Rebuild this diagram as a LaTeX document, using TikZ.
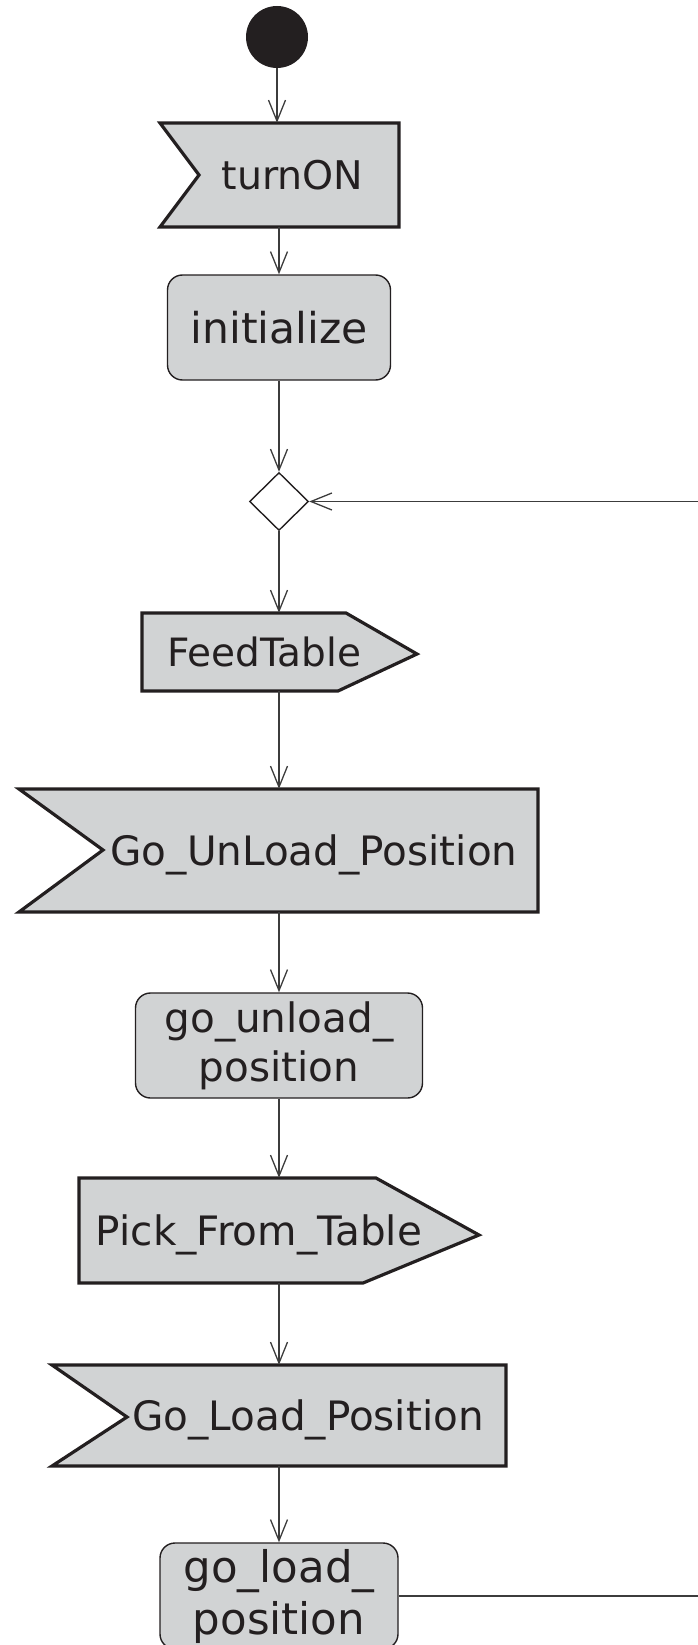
\documentclass[tikz,border=0pt]{standalone}
\usepackage{fontspec}
\setmainfont{DejaVu Sans}
\usetikzlibrary{calc,positioning,arrows.meta}
\usetikzlibrary{shapes.geometric}

\definecolor{boxgray}{HTML}{D1D3D4}
\definecolor{ink}{HTML}{231F20}
\definecolor{wire}{HTML}{3C3C3C}

\begin{document}
\begin{tikzpicture}[x=1pt,y=-1pt,
  sigline/.style={draw=ink,fill=boxgray,line width=3.2pt},
  sigtext/.style={text=ink,inner sep=0pt,text depth=0pt},
  action/.style={draw=ink,fill=boxgray,line width=1.4pt,rounded corners=15pt,
    text=ink,inner sep=0pt,align=center},
  flow/.style={draw=wire,line width=1.3pt,-{Straight Barb[length=21pt,width=17pt]}}]
\useasboundingbox (0,0) rectangle (698,1645);
% signal outlines
\filldraw[sigline] (160,123) -- (399,123) -- (399,227) -- (160,227) -- (199,175) -- cycle;
\filldraw[sigline] (142,613) -- (346,613) -- (417,654) -- (338,691) -- (142,691) -- cycle;
\filldraw[sigline] (19,789) -- (538,789) -- (538,912) -- (19,912) -- (103,850) -- cycle;
\filldraw[sigline] (79,1178) -- (376,1178) -- (479,1235) -- (363,1283) -- (79,1283) -- cycle;
\filldraw[sigline] (52,1365) -- (506,1365) -- (506,1466) -- (52,1466) -- (127,1417) -- cycle;
% nodes
\node[circle,fill=ink,minimum size=62pt,inner sep=0pt] (start) at (277,37) {};
\node[sigtext,minimum height=104pt,font=\fontsize{39.5}{48}\selectfont] (turn) at (292.5,175) {turnON};
\node[action,minimum width=223pt,minimum height=105pt,font=\fontsize{42.5}{50}\selectfont] (init) at (279,327.5) {initialize};
\node[diamond,draw=ink,fill=white,line width=1.4pt,minimum width=59pt,minimum height=58pt,inner sep=0pt] (dec) at (279,501.5) {};
\node[sigtext,minimum height=78pt,font=\fontsize{39}{46}\selectfont] (feed) at (264.5,652) {FeedTable};
\node[sigtext,minimum height=123pt,font=\fontsize{40.5}{48}\selectfont] (goun) at (314,850.5) {Go\_UnLoad\_Position};
\node[action,minimum width=287pt,minimum height=105pt,font=\fontsize{40.5}{49}\selectfont] (unld) at (279,1045.5) {go\_unload\_\\position};
\node[sigtext,minimum height=105pt,font=\fontsize{40.5}{48}\selectfont] (pick) at (259,1230.5) {Pick\_From\_Table};
\node[sigtext,minimum height=101pt,font=\fontsize{40.5}{48}\selectfont] (gol) at (308,1415.5) {Go\_Load\_Position};
\node[action,minimum width=238pt,minimum height=106pt,font=\fontsize{43.5}{52}\selectfont] (lod) at (279,1596) {go\_load\_\\position};
% flow
\draw[flow] (start) -- (start |- turn.north);
\draw[flow] (init.north |- turn.south) -- (init.north);
\draw[flow] (init) -- (dec);
\draw[flow] (dec) -- (dec |- feed.north);
\draw[flow] (dec |- feed.south) -- (dec |- goun.north);
\draw[flow] (dec |- goun.south) -- (unld);
\draw[flow] (unld) -- (unld |- pick.north);
\draw[flow] (unld |- pick.south) -- (unld |- gol.north);
\draw[flow] (unld |- gol.south) -- (lod);
% back to the merge
\draw[flow] (lod.east) -- ++(330,0) |- (dec.east);
\end{tikzpicture}
\end{document}
